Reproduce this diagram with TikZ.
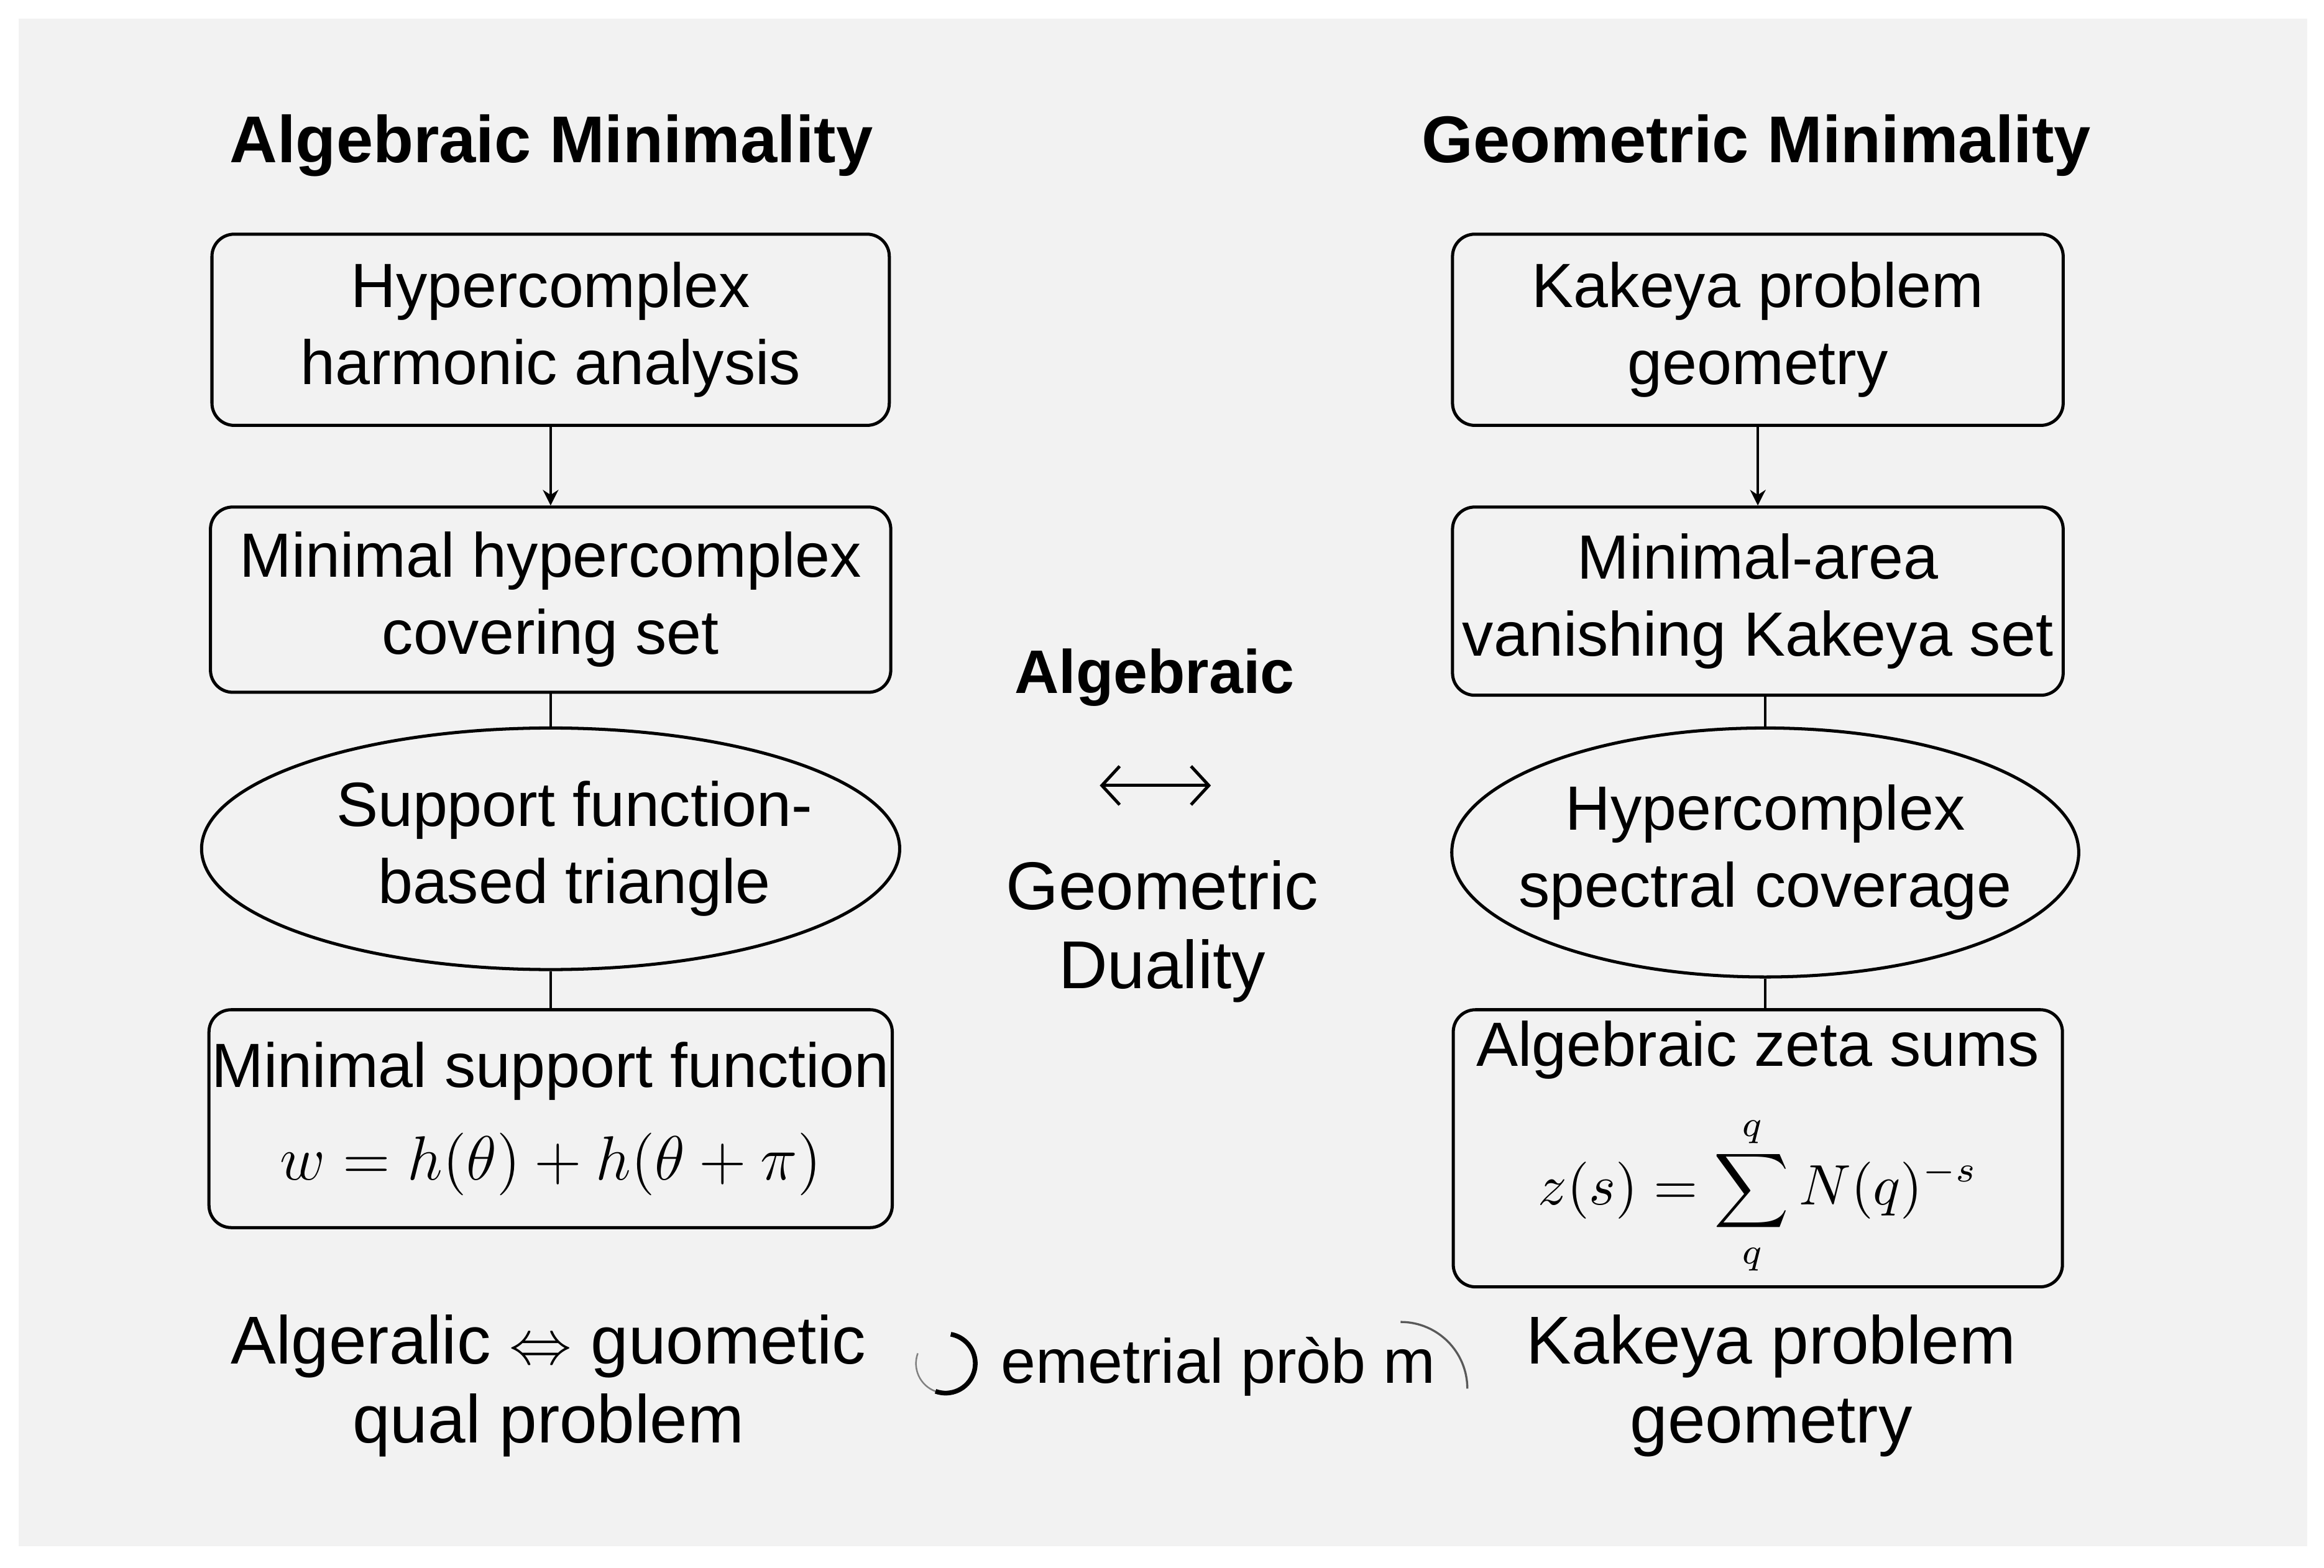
\documentclass[tikz,border=0pt]{standalone}
\usepackage{fontspec}
\setmainfont{Liberation Sans}
\usetikzlibrary{positioning,shapes.geometric,arrows.meta}
\definecolor{bggray}{gray}{0.95}
\newcommand{\boxfont}{\fontsize{12}{14.8}\selectfont}
\newcommand{\bigtext}{\fontsize{13}{15.2}\selectfont}
\tikzset{
  heading/.style={font=\fontsize{12.7}{15}\selectfont\bfseries},
  stage/.style={draw, rounded corners=0.15cm, line width=0.6pt, align=center,
    inner sep=0pt, font=\boxfont},
  oval/.style={draw, ellipse, line width=0.6pt, inner sep=0pt},
  ovaltext/.style={align=center, font=\boxfont, inner sep=0pt},
  link/.style={line width=0.4pt},
  flow/.style={link, -{Stealth[length=3pt,width=3pt]}},
  caption/.style={align=center, font=\bigtext}
}
\begin{document}
\begin{tikzpicture}
  \useasboundingbox (0,0) rectangle (15.68,-10.58);
  \fill[bggray] (0.126,-0.126) rectangle (15.565,-10.432);

  \node[heading] (algtitle) at (3.72,-0.98) {Algebraic Minimality};
  \node[heading] (geotitle) at (11.85,-0.98) {Geometric Minimality};

  \node[stage, minimum width=4.57cm, minimum height=1.29cm] (harmonic) at (3.715,-2.225)
    {Hypercomplex\\harmonic analysis};
  \node[stage, minimum width=4.59cm, minimum height=1.25cm, below=0.53cm of harmonic] (covering)
    {Minimal hypercomplex\\covering set};
  \node[oval, minimum width=4.71cm, minimum height=1.63cm, below=0.22cm of covering,
    label={[ovaltext, xshift=0.16cm]center:Support function-\\based triangle}] (triangle) {};
  \node[stage, minimum width=4.61cm, minimum height=1.47cm, below=0.25cm of triangle] (support)
    {Minimal support function\\[3pt]{\fontsize{13}{15}\selectfont$w=h(\theta)+h(\theta+\pi)$}};

  \node[stage, minimum width=4.12cm, minimum height=1.29cm] (kakeya) at (11.86,-2.225)
    {Kakeya problem\\geometry};
  \node[stage, minimum width=4.12cm, minimum height=1.27cm, below=0.53cm of kakeya] (area)
    {Minimal-area\\vanishing Kakeya set};
  \node[oval, minimum width=4.23cm, minimum height=1.68cm, below=0.2cm of area, xshift=0.05cm,
    label={[ovaltext]center:Hypercomplex\\spectral coverage}] (spectral) {};
  \node[stage, minimum width=4.11cm, minimum height=1.87cm, below=0.2cm of spectral, xshift=-0.05cm] (zeta)
    {Algebraic zeta sums\\[6pt]{\fontsize{10.5}{12.5}\selectfont$\displaystyle z(s)=\sum_{q}^{q}N(q)^{-s}$}};

  \draw[flow] (harmonic) -- (covering);
  \draw[link] (covering) -- (triangle);
  \draw[link] (triangle) -- (support);
  \draw[flow] (kakeya) -- (area);
  \draw[link] (spectral.north |- area.south) -- (spectral.north);
  \draw[link] (spectral.south) -- (spectral.south |- zeta.north);

  \node[font=\fontsize{11.8}{14}\selectfont\bfseries] (algebraic) at (7.79,-4.57) {Algebraic};
  \coordinate (dualleft) at (7.42,-5.30);
  \coordinate (dualright) at (8.17,-5.30);
  \draw[line width=0.6pt, {Straight Barb[length=0.12cm,width=0.26cm]}-{Straight Barb[length=0.12cm,width=0.26cm]}]
    (dualleft) -- (dualright);
  \node[caption] (duality) at (7.84,-6.285) {Geometric\\Duality};

  \node[caption] (algnote) at (3.7,-9.35) {Algeralic $\Leftrightarrow$ guometic\\qual problem};
  \node[font=\fontsize{12}{14}\selectfont] (midnote) at (8.22,-9.22) {emetrial pròb m};
  \node[caption] (geonote) at (11.95,-9.35) {Kakeya problem\\geometry};

  \draw[gray, line width=0.3pt] (6.38,-9.2) ++(160:0.2) arc[start angle=160, end angle=250, radius=0.2];
  \draw[line width=0.9pt] (6.38,-9.2) ++(250:0.2) arc[start angle=250, end angle=440, radius=0.2];
  \draw[gray!70!black, line width=0.4pt] (9.45,-8.92) arc[start angle=90, end angle=0, radius=0.45];
\end{tikzpicture}
\end{document}
